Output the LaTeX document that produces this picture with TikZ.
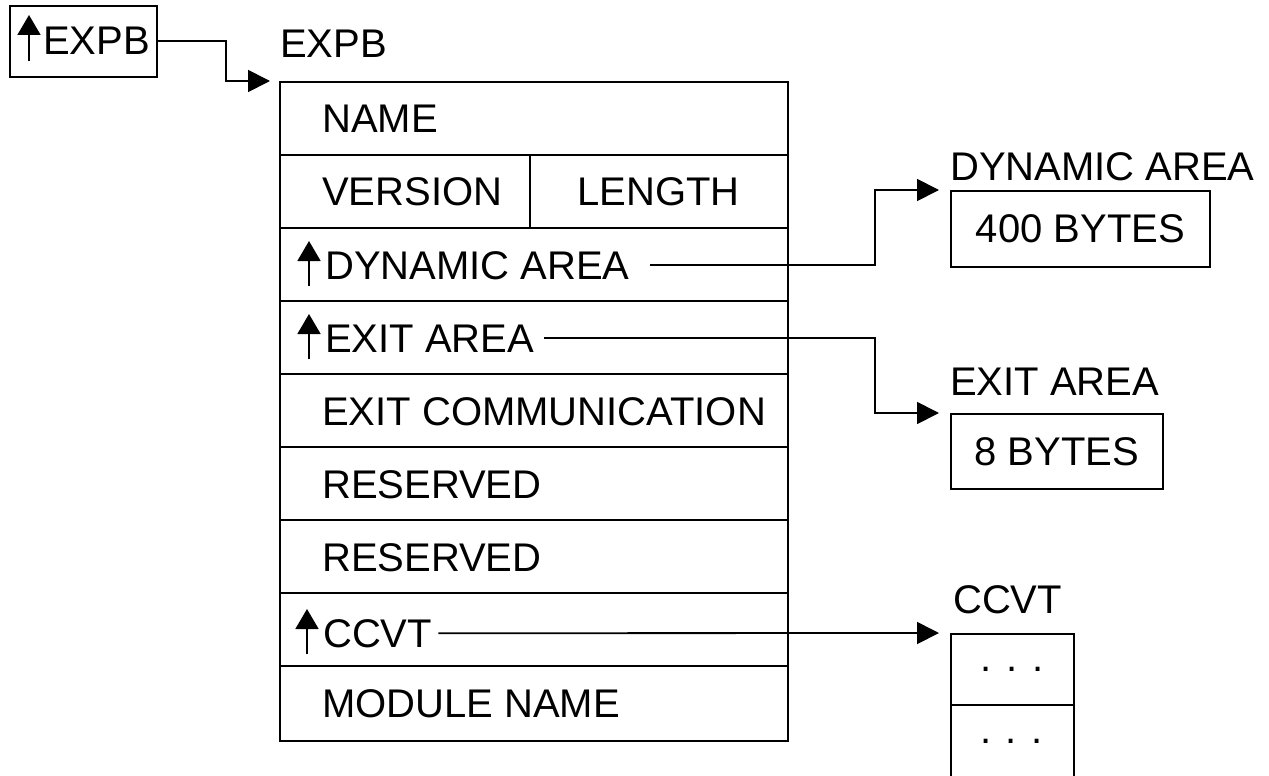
\documentclass[tikz,border=0pt]{standalone}
\usepackage{fontspec}
\setmainfont{Liberation Sans}
\usetikzlibrary{arrows.meta,calc}
\begin{document}
\begin{tikzpicture}[x=1pt,y=-1pt,
  lw/.style={line width=1.8pt},
  txt/.style={anchor=base west, inner sep=0pt, font=\fontsize{40}{42}\selectfont},
  box/.style={draw, line width=1.8pt, inner sep=0pt, anchor=north west, font=\fontsize{40}{42}\selectfont},
  conn/.style={line width=1.8pt, -{Triangle[length=22pt,width=22pt]}},
  ptr/.style={line width=1.8pt, -{Triangle[length=20pt,width=23pt]}}]
\useasboundingbox (0,0) rectangle (1269,776);

% pointer box at top left
\node[box, minimum width=147pt, minimum height=71pt] (pbox) at (9,5) {};
\node[txt] (ptxt) at (43,55) {EXPB};
\draw[ptr] ([xshift=-14pt,yshift=-6pt]ptxt.base west) -- ([xshift=-14pt,yshift=40pt]ptxt.base west);

% main table
\node[txt] (tlbl) at (280,58) {EXPB};
\node[box, minimum width=508pt, minimum height=659pt] (tbl) at (279,81) {};
\foreach \y in {155,228,301,374,447,520,593,666}
  \draw[lw] (279,\y) -- (787,\y);
\draw[lw] (530,155) -- (530,228);

\node[txt] (name) at (322,132) {NAME};
\node[txt] (ver) at (322,205) {VERSION};
\node[txt, anchor=base] (len) at (658.5,205) {LENGTH};
\node[txt] (dyn) at (325,279) {DYNAMIC AREA};
\node[txt] (exit) at (325,352) {EXIT AREA};
\node[txt] (comm) at (322,425) {EXIT COMMUNICATION};
\node[txt] (res1) at (322,498) {RESERVED};
\node[txt] (res2) at (322,571) {RESERVED};
\node[txt] (ccvt) at (323,647) {CCVT};
\node[txt] (mod) at (322,717) {MODULE NAME};

\foreach \n in {dyn,exit,ccvt}
  \draw[ptr] ([xshift=-16pt,yshift=-7pt]\n.base west) -- ([xshift=-16pt,yshift=38pt]\n.base west);

% right side areas
\node[txt] (dlbl) at (950,180) {DYNAMIC AREA};
\node[box, minimum width=259pt, minimum height=76pt] (dbox) at (950,190) {400 BYTES};
\node[txt] (elbl) at (950,395) {EXIT AREA};
\node[box, minimum width=212pt, minimum height=75pt] (ebox) at (950,413) {8 BYTES};
\node[txt] (clbl) at (953,613) {CCVT};
\node[box, minimum width=123pt, minimum height=71pt] (cell1) at (950,633) {. . .};
\node[box, minimum width=123pt, minimum height=90pt] (cell2) at (950,704) {};
\node[txt, anchor=center] (dots2) at (1011.5,741) {. . .};

% connectors
\coordinate (kx) at (226,0);
\coordinate (jx) at (875,0);
\draw[conn] (pbox.east) -- (kx |- pbox.east) |- ([xshift=-9pt]tbl.north west);
\draw[conn] ([xshift=20pt]dyn.east) -- (jx |- dyn.east) |- ([xshift=-11pt]dbox.north west);
\draw[conn] ([xshift=10pt]exit.east) -- (jx |- exit.east) |- ([xshift=-11pt]ebox.north west);
\draw[conn] ([xshift=6pt]ccvt.east) -- ([xshift=-11pt]cell1.north west);
\end{tikzpicture}
\end{document}
